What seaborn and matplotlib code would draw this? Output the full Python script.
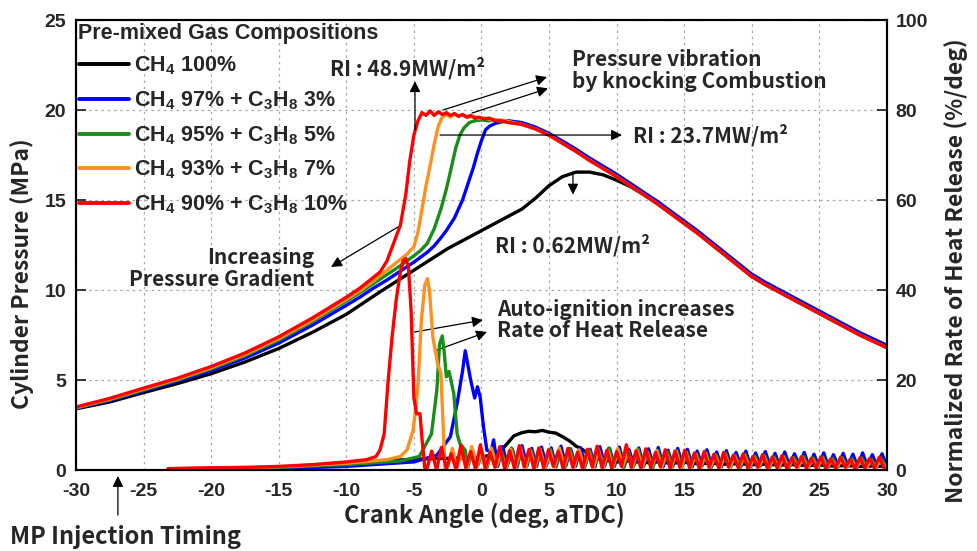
import numpy as np
import pandas as pd
import matplotlib
matplotlib.use("Agg")
import matplotlib.pyplot as plt
import seaborn as sns

# ------------------------------------------------------------------ data
FUELS = ["CH4 100%", "CH4 97% + C3H8 3%", "CH4 95% + C3H8 5%",
         "CH4 93% + C3H8 7%", "CH4 90% + C3H8 10%"]
LEGEND_LABELS = [r"CH$_4$ 100%", r"CH$_4$ 97% + C$_3$H$_8$ 3%",
                 r"CH$_4$ 95% + C$_3$H$_8$ 5%", r"CH$_4$ 93% + C$_3$H$_8$ 7%",
                 r"CH$_4$ 90% + C$_3$H$_8$ 10%"]
LEGEND_TITLE = "Pre-mixed Gas Compositions"
COLORS = ["#000000", "#0000FF", "#1A8C1A", "#FF9020", "#FF0000"]

X_TICKS = [-30, -25, -20, -15, -10, -5, 0, 5, 10, 15, 20, 25, 30]
P_TICKS = [0, 5, 10, 15, 20, 25]
R_TICKS = [0, 20, 40, 60, 80, 100]

# --- cylinder pressure (MPa)
CMP_ANGLE = [-30, -27.5, -25, -22.5, -20, -17.5, -15, -12.5, -10]
EXP_ANGLE = [3, 4, 5, 6, 7, 8, 9, 10, 11, 12, 13, 14, 15, 16, 17, 18, 19, 20,
             21, 22, 23, 24, 25, 26, 27, 28, 29, 30]
EXP_P = [19.2, 18.95, 18.6, 18.15, 17.7, 17.2, 16.75, 16.3, 15.8, 15.3, 14.8,
         14.25, 13.7, 13.15, 12.55, 11.95, 11.35, 10.75, 10.3, 9.9, 9.5, 9.1,
         8.7, 8.3, 7.9, 7.5, 7.15, 6.8]
EXP_P_BLUE = [19.3, 19.05, 18.7, 18.27, 17.82, 17.33, 16.88, 16.43, 15.93,
              15.43, 14.93, 14.38, 13.83, 13.28, 12.68, 12.08, 11.48, 10.88,
              10.43, 10.03, 9.63, 9.23, 8.83, 8.43, 8.03, 7.63, 7.28, 6.93]

P_BLACK_CMP = [3.4, 3.78, 4.3, 4.8, 5.35, 6.0, 6.75, 7.65, 8.65]
P_BLACK_ANGLE = [-7.5, -5, -2.5, 0, 1, 2, 3, 4, 5, 6, 7, 8, 9, 10, 11]
P_BLACK = [9.9, 11.1, 12.3, 13.3, 13.7, 14.1, 14.5, 15.1, 15.8, 16.3, 16.55,
           16.55, 16.4, 16.1, 15.75]

P_BLUE_CMP = [3.43, 3.86, 4.4, 4.93, 5.52, 6.22, 7.05, 8.05, 9.15]
P_BLUE_ANGLE = [-9, -8, -7, -6, -5, -4, -3.5, -3.0, -2.6, -2.0, -1.4, -1.0,
                -0.6, -0.3, 0.0, 0.3, 0.6, 1.0, 1.5, 2.0]
P_BLUE = [9.6, 10.1, 10.55, 11.05, 11.55, 12.1, 12.45, 12.9, 13.3, 14.0, 15.0,
          15.9, 16.8, 17.6, 18.3, 18.9, 19.1, 19.25, 19.35, 19.4]

P_GREEN_CMP = [3.45, 3.9, 4.45, 5.0, 5.62, 6.35, 7.22, 8.25, 9.38]
P_GREEN_ANGLE = [-9, -8, -7, -6, -5, -4.5, -4.0, -3.5, -3.0, -2.6, -2.2, -1.9,
                 -1.6, -1.3, -0.9, -0.5, 0, 0.5, 1.0, 1.5, 2.0]
P_GREEN = [9.85, 10.35, 10.85, 11.35, 11.9, 12.2, 12.6, 13.4, 14.5, 15.6, 16.9,
           17.9, 18.6, 19.0, 19.3, 19.4, 19.45, 19.4, 19.45, 19.35, 19.35]

P_ORANGE_CMP = [3.47, 3.94, 4.5, 5.05, 5.68, 6.42, 7.3, 8.33, 9.48]
P_ORANGE_ANGLE = [-9, -8, -7, -6, -5.5, -5.0, -4.7, -4.4, -4.1, -3.8, -3.5,
                  -3.2, -2.9, -2.6, -2.3, -2.0, -1.7, -1.4, -1.0, -0.6, -0.2,
                  0.3, 0.8, 1.4, 2.0]
P_ORANGE = [9.95, 10.5, 11.1, 11.7, 12.0, 12.4, 13.2, 14.5, 15.8, 16.9, 18.1,
            19.1, 19.6, 19.75, 19.6, 19.8, 19.65, 19.75, 19.6, 19.65, 19.55,
            19.55, 19.45, 19.45, 19.35]

P_RED_CMP = [3.5, 3.98, 4.55, 5.1, 5.75, 6.5, 7.4, 8.45, 9.6]
P_RED_ANGLE = [-9, -8, -7.5, -7.0, -6.5, -6.0, -5.6, -5.3, -5.0, -4.7, -4.4,
               -4.1, -3.8, -3.5, -3.2, -2.9, -2.6, -2.3, -2.0, -1.7, -1.4,
               -1.1, -0.8, -0.5, -0.2, 0.2, 0.6, 1.0, 1.5, 2.0]
P_RED = [10.1, 10.7, 11.0, 11.6, 12.6, 13.6, 15.3, 17.2, 18.6, 19.4, 19.85,
         19.7, 19.95, 19.7, 19.9, 19.75, 19.85, 19.7, 19.8, 19.65, 19.75, 19.6,
         19.7, 19.55, 19.6, 19.5, 19.55, 19.4, 19.4, 19.3]

# --- normalized rate of heat release (%/deg)
HR_BLACK_ANGLE = [-17, -15, -12, -10, -7.5, -5, -2.5, 0, 1.0, 1.5, 2.0, 2.4,
                  3.0, 3.5, 4.0, 4.5, 5.0, 5.5, 6.0, 6.5, 7.0, 7.5, 8.0, 8.5,
                  9, 10, 11, 12, 13, 14, 15, 16, 17, 18, 19, 20, 21, 22, 23,
                  24, 25, 26, 27, 28, 29, 30]
HR_BLACK = [0.1, 0.4, 0.9, 1.3, 2.0, 2.4, 2.6, 2.8, 3.6, 4.5, 6.2, 7.6, 8.3,
            8.6, 8.5, 8.8, 8.4, 8.2, 7.4, 6.5, 5.3, 4.5, 3.4, 2.6, 2.2, 1.8,
            2.0, 1.6, 1.8, 1.5, 1.7, 1.4, 1.5, 1.3, 1.4, 1.2, 1.3, 1.1, 1.2,
            1.0, 1.1, 0.9, 1.0, 0.8, 0.9, 0.8]

HR_BLUE_PRE_ANGLE = [-17, -15, -10, -5, -3.3, -2.3, -1.8, -1.4, -1.2, -0.8,
                     -0.5, -0.3, -0.1, 0.15, 0.4, 0.7, 0.9, 1.05]
HR_BLUE_PRE = [0.1, 0.3, 0.8, 1.8, 3.3, 7.4, 14.8, 22.0, 26.5, 20.0, 16.0,
               18.5, 16.3, 9.6, 4.4, 4.0, 6.7, 3.5]
HR_BLUE_OSC = [0.8, 5.2, 1.0, 4.6, 0.7, 5.4, 0.9, 4.8, 0.8, 5.1,
               1.0, 4.9, 0.7, 5.3, 0.9, 4.7, 0.8, 5.0, 1.0, 4.6, 0.7, 5.2,
               0.9, 4.8, 0.8, 5.1, 0.7, 4.5, 1.0, 4.9, 0.8, 4.7, 0.9, 5.0,
               0.7, 4.4, 0.8, 4.8,
               1.0, 4.6, 0.7, 4.2, 0.9, 4.5, 0.8, 4.0, 0.7, 4.3, 0.9, 3.9,
               0.8, 4.2, 0.7, 3.8, 0.9, 4.1, 0.8, 3.7, 0.7, 4.0, 0.8, 3.6,
               0.9, 3.9, 0.7, 3.5, 0.8, 3.8, 0.7, 3.4, 0.9, 3.7, 0.8, 3.5,
               0.7, 3.8, 0.8, 3.4, 0.7, 3.6, 0.8]

HR_GREEN_PRE_ANGLE = [-23, -15, -10, -6, -4.6, -3.7, -3.3, -3.1, -2.9, -2.75,
                      -2.6, -2.4, -2.05, -1.8, -1.6, -1.2]
HR_GREEN_PRE = [0.2, 0.6, 1.2, 2.0, 3.0, 8.0, 17.8, 28.0, 29.8, 26.0, 20.7,
                21.9, 17.0, 8.0, 5.9, 4.4]
HR_GREEN_OSC = [0.5, 4.4, 0.8, 3.8, 0.6, 4.7, 0.9, 4.1, 0.5, 4.9, 0.7, 3.9,
                0.6, 4.5, 0.8, 4.2,
                0.5, 4.6, 0.7, 4.0, 0.6, 4.8, 0.9, 4.3, 0.5, 4.5, 0.7, 4.1,
                0.6, 4.9, 0.8, 4.4, 0.5, 4.2, 0.6, 4.7, 0.7, 4.0, 0.5, 4.4,
                0.8, 4.1, 0.6, 4.3,
                0.5, 4.0, 0.7, 3.6, 0.6, 3.8, 0.5, 3.4, 0.7, 3.7, 0.6, 3.2,
                0.5, 3.5, 0.6, 3.1, 0.7, 3.3, 0.5, 2.9, 0.6, 3.1, 0.5, 2.8,
                0.7, 3.0, 0.6, 2.7, 0.5, 2.9, 0.6, 2.6, 0.5, 2.8, 0.7, 2.5,
                0.6, 2.7, 0.5, 2.4, 0.6, 2.6, 0.5]

HR_ORANGE_PRE_ANGLE = [-23, -15, -10, -7, -6, -5.5, -5.05, -4.7, -4.45, -4.2,
                       -4.0, -3.85, -3.6, -3.25, -3.0, -2.8, -2.7]
HR_ORANGE_PRE = [0.3, 0.7, 1.5, 2.3, 3.0, 4.5, 8.9, 18.5, 33.0, 41.0, 42.5,
                 40.0, 29.6, 23.7, 21.5, 7.4, 0.3]
HR_ORANGE_OSC = [0.3, 4.8, 0.6, 3.9, 0.4, 5.2, 0.7, 4.4, 0.5, 4.9, 0.8, 3.8,
                 0.4, 4.6, 0.6, 5.0, 0.5, 4.2, 0.7, 4.7,
                 0.4, 4.3, 0.6, 4.9, 0.8, 4.1, 0.5, 4.5, 0.7, 4.0, 0.4, 4.6,
                 0.6, 4.2, 0.5, 4.8, 0.8, 3.9, 0.6, 4.4, 0.4, 4.0, 0.7, 4.3,
                 0.5, 3.8, 0.6, 4.1,
                 0.4, 3.9, 0.7, 3.5, 0.5, 3.7, 0.6, 3.2, 0.4, 3.5, 0.5, 3.0,
                 0.7, 3.3, 0.4, 2.8, 0.6, 3.1, 0.5, 2.6, 0.4, 2.9, 0.6, 2.5,
                 0.5, 2.7, 0.4, 2.4, 0.6, 2.6, 0.5, 2.2, 0.4, 2.5, 0.5, 2.1,
                 0.6, 2.3, 0.4, 2.0, 0.5, 2.2, 0.4]

HR_RED_PRE_ANGLE = [-23.2, -20, -17, -15, -12.5, -10, -8.5, -7.8, -7.5, -7.2,
                    -6.9, -6.6, -6.3, -6.0, -5.8, -5.6, -5.4, -5.2, -5.0,
                    -4.8, -4.55, -4.4, -4.2]
HR_RED_PRE = [0.3, 0.5, 0.6, 0.8, 1.2, 1.8, 2.3, 3.0, 4.5, 8.0, 20.0, 30.0,
              38.0, 44.0, 46.5, 47.0, 45.0, 35.0, 16.0, 12.5, 12.5, 7.0, 0.5]
HR_RED_OSC = [0.2, 4.2, 0.0, 5.0, 0.4, 3.6, 0.1, 5.5, 0.5, 4.1, 0.2, 5.6,
              0.3, 3.9, 0.6, 5.2, 0.2, 4.3, 0.4, 5.4, 0.7, 4.6, 0.3, 4.9,
              0.5, 4.5, 0.8, 4.2, 0.4, 4.8, 0.6, 4.0, 0.3, 4.6, 0.7, 5.3,
              0.5, 4.4, 0.4, 4.1, 0.8, 5.6, 0.6, 4.3, 0.3, 4.7, 0.5, 3.9,
              0.7, 4.5, 0.4, 4.2,
              0.6, 4.4, 0.5, 3.8, 0.3, 4.1, 0.6, 3.5, 0.4, 3.9, 0.7, 3.3,
              0.5, 3.6, 0.3, 3.0, 0.6, 3.4, 0.4, 2.9, 0.5, 3.2, 0.3, 2.7,
              0.6, 3.0, 0.4, 2.6, 0.5, 2.9, 0.3, 2.5, 0.4, 2.8, 0.6, 2.4,
              0.3, 2.7, 0.5, 2.6, 0.4, 2.9, 0.3]

# knock oscillation sampling (start angle of each record, sample step in deg)
OSC_START = {"blue": 1.2, "green": -1.02, "orange": -2.52, "red": -4.04}
OSC_STEP = 0.36


def osc_angles(start, n):
    return list(np.round(start + OSC_STEP * np.arange(n), 3))


# ------------------------------------------------------------------ frames
p_rows = []
p_rows.append((CMP_ANGLE + P_BLACK_ANGLE + EXP_ANGLE[9:],
               P_BLACK_CMP + P_BLACK + EXP_P[9:], FUELS[0]))
p_rows.append((CMP_ANGLE + P_BLUE_ANGLE + EXP_ANGLE,
               P_BLUE_CMP + P_BLUE + EXP_P_BLUE, FUELS[1]))
p_rows.append((CMP_ANGLE + P_GREEN_ANGLE + EXP_ANGLE,
               P_GREEN_CMP + P_GREEN + EXP_P, FUELS[2]))
p_rows.append((CMP_ANGLE + P_ORANGE_ANGLE + EXP_ANGLE,
               P_ORANGE_CMP + P_ORANGE + EXP_P, FUELS[3]))
p_rows.append((CMP_ANGLE + P_RED_ANGLE + EXP_ANGLE,
               P_RED_CMP + P_RED + EXP_P, FUELS[4]))
df_p = pd.concat([pd.DataFrame({"angle": a, "p": v, "fuel": f})
                  for a, v, f in p_rows], ignore_index=True)

h_rows = []
h_rows.append((HR_BLACK_ANGLE, HR_BLACK, FUELS[0]))
h_rows.append((HR_BLUE_PRE_ANGLE + osc_angles(OSC_START["blue"], len(HR_BLUE_OSC)),
               HR_BLUE_PRE + HR_BLUE_OSC, FUELS[1]))
h_rows.append((HR_GREEN_PRE_ANGLE + osc_angles(OSC_START["green"], len(HR_GREEN_OSC)),
               HR_GREEN_PRE + HR_GREEN_OSC, FUELS[2]))
h_rows.append((HR_ORANGE_PRE_ANGLE + osc_angles(OSC_START["orange"], len(HR_ORANGE_OSC)),
               HR_ORANGE_PRE + HR_ORANGE_OSC, FUELS[3]))
h_rows.append((HR_RED_PRE_ANGLE + osc_angles(OSC_START["red"], len(HR_RED_OSC)),
               HR_RED_PRE + HR_RED_OSC, FUELS[4]))
df_h = pd.concat([pd.DataFrame({"angle": a, "hr": v, "fuel": f})
                  for a, v, f in h_rows], ignore_index=True)

# ------------------------------------------------------------------ style
sns.set_style("white")
plt.rcParams["font.family"] = ["Liberation Sans", "DejaVu Sans"]
plt.rcParams["font.weight"] = "bold"
plt.rcParams["axes.unicode_minus"] = False
plt.rcParams["mathtext.fontset"] = "custom"
plt.rcParams["mathtext.rm"] = "Liberation Sans:bold"
plt.rcParams["mathtext.it"] = "Liberation Sans:bold"
plt.rcParams["mathtext.bf"] = "Liberation Sans:bold"
plt.rcParams["mathtext.default"] = "rm"

ANN_FONT = ["Noto Sans CJK KR", "DejaVu Sans"]
palette = dict(zip(FUELS, COLORS))

fig = plt.figure(figsize=(9.77, 5.51), dpi=100)
ax = fig.add_axes([0.0778, 0.147, 0.830, 0.8167])
ax2 = ax.twinx()

sns.lineplot(data=df_p, x="angle", y="p", hue="fuel", hue_order=FUELS,
             palette=palette, estimator=None, sort=False, lw=2.4, ax=ax,
             legend=False)
sns.lineplot(data=df_h, x="angle", y="hr", hue="fuel", hue_order=FUELS,
             palette=palette, estimator=None, sort=False, lw=2.4, ax=ax2,
             legend=False)

ax.set_xlim(-30, 30)
ax.set_ylim(0, 25)
ax2.set_ylim(0, 100)
ax.set_xticks(X_TICKS)
ax.set_yticks(P_TICKS)
ax2.set_yticks(R_TICKS)
ax.grid(True, ls=(0, (2, 3)), color="#a8a8a8", lw=0.9)
ax2.grid(False)

tick_kw = dict(direction="in", length=7, width=1.3, labelsize=14)
ax.tick_params(axis="x", pad=9, **tick_kw)
ax.tick_params(axis="y", pad=7, **tick_kw)
ax2.tick_params(axis="y", pad=6, **tick_kw)
for lab in ax.get_xticklabels() + ax.get_yticklabels() + ax2.get_yticklabels():
    lab.set_fontweight("bold")
for a in (ax, ax2):
    for s in a.spines.values():
        s.set_color("black")
        s.set_linewidth(1.5)

lab_kw = dict(fontweight="bold", family=ANN_FONT)
ax.set_xlabel("Crank Angle (deg, aTDC)", fontsize=17, **lab_kw)
ax.set_ylabel("Cylinder Pressure (MPa)", fontsize=16.5, **lab_kw)
ax2.set_ylabel("Normalized Rate of Heat Release (%/deg)", rotation=90,
               fontsize=16.5, **lab_kw)
ax.xaxis.set_label_coords(0.504, -0.072)
ax.yaxis.set_label_coords(-0.052, 0.436)
ax2.yaxis.set_label_coords(1.071, 0.444)

# legend (title drawn as its own text so row spacing matches the reference)
ax.text(0.0025, 0.971, LEGEND_TITLE, transform=ax.transAxes, ha="left",
        va="center", fontsize=15.5, fontweight="bold")
handles = [plt.Line2D([], [], color=c, lw=2.8) for c in COLORS]
leg = ax.legend(handles, LEGEND_LABELS, loc="upper left",
                bbox_to_anchor=(-0.004, 0.937), frameon=False,
                prop={"size": 15.5, "weight": "bold"}, handlelength=2.3,
                handletextpad=0.25, labelspacing=0.56, borderaxespad=0.3,
                borderpad=0.0)

# annotations
arrow = dict(arrowstyle="-|>", color="black", lw=0.9, mutation_scale=16,
             shrinkA=0, shrinkB=0)
txt = dict(fontsize=15, fontweight="bold", family=ANN_FONT)

ax.annotate("", xy=(-4.92, 21.6), xytext=(-4.92, 18.9), arrowprops=arrow)
ax.text(-11.2, 22.33, "RI : 48.9MW/m²", ha="left", va="center", **txt)

ax.annotate("", xy=(4.85, 21.83), xytext=(-2.85, 20.0), arrowprops=arrow)
ax.annotate("", xy=(4.92, 21.2), xytext=(-0.7, 19.83), arrowprops=arrow)
ax.text(6.7, 22.2, "Pressure vibration\nby knocking Combustion", ha="left",
        va="center", linespacing=1.05, **txt)

ax.annotate("", xy=(10.4, 18.61), xytext=(-3.07, 18.61), arrowprops=arrow)
ax.text(11.2, 18.61, "RI : 23.7MW/m²", ha="left", va="center", **txt)

ax.annotate("", xy=(6.77, 15.3), xytext=(6.77, 16.56), arrowprops=arrow)
ax.text(6.77, 12.5, "RI : 0.62MW/m²", ha="center", va="center", **txt)

ax.annotate("", xy=(-11.13, 11.28), xytext=(-6.18, 13.5), arrowprops=arrow)
ax.text(-12.35, 11.19, "Increasing\nPressure Gradient", ha="right",
        va="center", multialignment="right", linespacing=1.05, **txt)

ax.annotate("", xy=(0.11, 8.33), xytext=(-4.92, 7.67), arrowprops=arrow)
ax.annotate("", xy=(0.41, 7.67), xytext=(-3.29, 6.67), arrowprops=arrow)
ax.text(1.15, 8.33, "Auto-ignition increases\nRate of Heat Release",
        ha="left", va="center", linespacing=1.05, **txt)

ax.annotate("", xy=(-26.9, 75), xycoords=("data", "figure pixels"),
            xytext=(-26.9, 36), textcoords=("data", "figure pixels"),
            arrowprops=arrow, annotation_clip=False)
fig.text(10 / 977, 14 / 551, "MP Injection Timing", ha="left", va="center",
         fontsize=17, fontweight="bold", family=ANN_FONT)

fig.savefig("out.png", dpi=100)
